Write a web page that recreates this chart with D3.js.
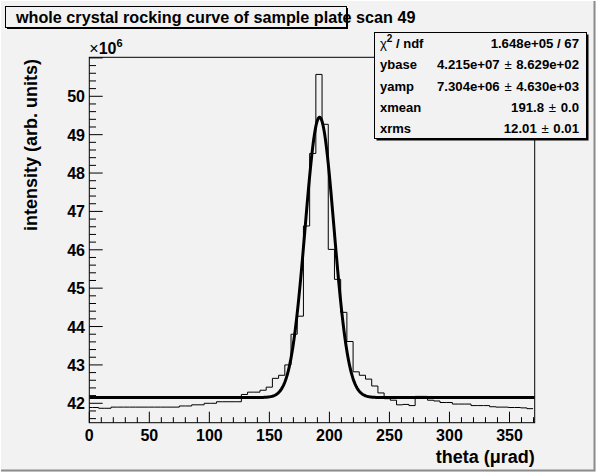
<!DOCTYPE html>
<html>
<head>
<meta charset="utf-8">
<script src="https://cdn.jsdelivr.net/npm/d3@7"></script>
<style>
  html, body { margin: 0; padding: 0; background: #f2f2f2; }
  svg text { font-family: "Liberation Sans", Arial, Helvetica, sans-serif; font-weight: bold; }
</style>
</head>
<body>
<div id="viz"></div>
<script>
// histogram contents, units of 1e6, one per bin (bin k centred on k * binWidth)
var binWidth = 5.17;
var histValues = [
  41.89, 41.89, 41.87, 41.87,
  41.90, 41.90, 41.90, 41.90, 41.90, 41.90, 41.90, 41.90, 41.90, 41.90, 41.90,
  41.93, 41.93, 41.96, 41.96, 42.00, 42.00,
  42.04, 42.04, 42.04, 42.04,
  42.23, 42.29, 42.29, 42.34, 42.42, 42.65, 42.73, 43.00, 43.80, 44.27,
  46.62, 48.51, 50.57, 49.27, 46.01, 45.23, 44.37, 43.61, 42.82, 42.73,
  42.63, 42.45, 42.27, 42.12, 42.08, 41.96, 41.97, 41.94, 42.18, 42.18,
  42.08, 42.06, 42.02, 42.02, 41.98, 41.98, 41.98, 41.94, 41.94, 41.94,
  41.91, 41.90, 41.90, 41.89, 41.89, 41.88, 41.86
];

// fit parameters (gaussian on a flat base)
var ybase = 4.215e7, yamp = 7.304e6, xmean = 191.8, xrms = 12.01;

var statNames = ["ndf", "ybase", "yamp", "xmean", "xrms"];
var statValues = ["1.648e+05 / 67", "4.215e+07 \u00b1 8.629e+02", "7.304e+06 \u00b1 4.630e+03",
                  "191.8 \u00b1 0.0", "12.01 \u00b1 0.01"];

var xTickLabels = [0, 50, 100, 150, 200, 250, 300, 350];
var yTickLabels = [42, 43, 44, 45, 46, 47, 48, 49, 50];

var titleText = "whole crystal rocking curve of sample plate scan 49";
var xTitle = "theta (\u03bcrad)";
var yTitle = "intensity (arb. units)";

(function() {
  var W = 596, H = 472;
  var left = 89.3, right = 534.7, top = 57.3, bottom = 422.7;

  var svg = d3.select("#viz").append("svg")
      .attr("width", W)
      .attr("height", H);

  svg.append("rect").attr("width", W).attr("height", H).style("fill", "#f2f2f2");
  // canvas bevel
  svg.append("path").attr("d", "M0.5," + (H - 0.5) + "V0.5H" + (W - 0.5))
    .style("fill", "none").style("stroke", "#ffffff");
  svg.append("path").attr("d", "M1," + (H - 1.5) + "H" + (W - 1.5) + "V1")
    .style("fill", "none").style("stroke", "#8c8c8c").style("stroke-width", 2);

  var x = d3.scaleLinear().domain([0, 371]).range([left, right]);
  var y = d3.scaleLinear().domain([41.494, 51.016]).range([bottom, top]);

  svg.append("clipPath").attr("id", "frameclip")
    .append("rect").attr("x", left).attr("y", top)
    .attr("width", right - left).attr("height", bottom - top);

  var plot = svg.append("g").attr("clip-path", "url(#frameclip)");

  // histogram outline (steps)
  var pts = [];
  histValues.forEach(function(v, k) {
    var lo = (k - 0.5) * binWidth, hi = (k + 0.5) * binWidth;
    pts.push([x(lo), y(v)]);
    pts.push([x(hi), y(v)]);
  });
  plot.append("path")
    .attr("d", d3.line()(pts))
    .style("fill", "none")
    .style("stroke", "black")
    .style("stroke-width", 1);

  // fit curve
  var fx = d3.range(0, 371.5, 0.5);
  var fit = d3.line()
    .x(function(d) { return x(d); })
    .y(function(d) {
      var t = (d - xmean) / xrms;
      return y((ybase + yamp * Math.exp(-0.5 * t * t)) / 1e6);
    });
  plot.append("path")
    .attr("d", fit(fx))
    .style("fill", "none")
    .style("stroke", "black")
    .style("stroke-width", 3)
    .style("stroke-linejoin", "round");

  // frame
  svg.append("rect")
    .attr("x", left).attr("y", top)
    .attr("width", right - left).attr("height", bottom - top)
    .style("fill", "none").style("stroke", "black").style("stroke-width", 1);

  // x ticks (inward)
  var xt = svg.append("g");
  d3.range(0, 371, 10).forEach(function(v) {
    var major = v % 50 === 0;
    xt.append("line")
      .attr("x1", x(v)).attr("x2", x(v))
      .attr("y1", bottom).attr("y2", bottom - (major ? 11 : 5.5))
      .style("stroke", "black");
  });
  xt.selectAll("text").data(xTickLabels).enter().append("text")
    .attr("x", function(d) { return x(d); })
    .attr("y", 441)
    .attr("text-anchor", "middle")
    .style("font-size", "16px")
    .text(function(d) { return d; });

  // y ticks (inward)
  var yt = svg.append("g");
  d3.range(41.6, 51.01, 0.2).forEach(function(v) {
    var major = Math.abs(v - Math.round(v)) < 1e-6;
    yt.append("line")
      .attr("x1", left).attr("x2", left + (major ? 13.4 : 6.7))
      .attr("y1", y(v)).attr("y2", y(v))
      .style("stroke", "black");
  });
  yt.selectAll("text").data(yTickLabels).enter().append("text")
    .attr("x", 85)
    .attr("y", function(d) { return y(d) + 6; })
    .attr("text-anchor", "end")
    .style("font-size", "16px")
    .text(function(d) { return d; });

  // exponent label
  var ex = svg.append("text").attr("x", left).attr("y", 54).style("font-size", "16px");
  ex.append("tspan").style("font-weight", "normal").text("\u00d7");
  ex.append("tspan").text("10");
  ex.append("tspan").attr("dy", -7).style("font-size", "11px").text("6");

  // axis titles
  svg.append("text")
    .attr("x", right).attr("y", 463)
    .attr("text-anchor", "end")
    .style("font-size", "18px")
    .text(xTitle);
  svg.append("text")
    .attr("transform", "translate(37,59) rotate(-90)")
    .attr("text-anchor", "end")
    .style("font-size", "18px")
    .text(yTitle);

  // title box
  svg.append("rect").attr("x", 7).attr("y", 8).attr("width", 341).attr("height", 21)
    .style("fill", "black");
  svg.append("rect").attr("x", 5.5).attr("y", 6.5).attr("width", 341).attr("height", 21)
    .style("fill", "#f2f2f2").style("stroke", "black");
  svg.append("text")
    .attr("x", 16).attr("y", 23)
    .style("font-size", "16.2px")
    .text(titleText);

  // stats box
  var sx = 374.5, sy = 32.5, sw = 212, sh = 106;
  svg.append("rect").attr("x", sx + 2).attr("y", sy + 2).attr("width", sw).attr("height", sh)
    .style("fill", "black");
  svg.append("rect").attr("x", sx).attr("y", sy).attr("width", sw).attr("height", sh)
    .style("fill", "#f2f2f2").style("stroke", "black");
  var rowH = sh / statNames.length;
  statNames.forEach(function(name, i) {
    var by = sy + rowH * (i + 0.5) + 5;
    var t = svg.append("text").attr("x", 380).attr("y", by).style("font-size", "13px");
    if (i === 0) {
      t.append("tspan").style("font-weight", "normal").text("\u03c7");
      t.append("tspan").attr("dy", -6).style("font-size", "10px").text("2");
      t.append("tspan").attr("dy", 6).text(" / " + name);
    } else {
      t.text(name);
    }
    var val = statValues[i].split("\u00b1");
    var v = svg.append("text").attr("x", 579).attr("y", by)
      .attr("text-anchor", "end").style("font-size", "13.2px");
    v.append("tspan").text(val[0]);
    if (val.length > 1) {
      v.append("tspan").attr("dx", 1).style("font-weight", "normal").text("\u00b1");
      v.append("tspan").attr("dx", 1).text(" " + val[1].trim());
    }
  });
})();
</script>
</body>
</html>
